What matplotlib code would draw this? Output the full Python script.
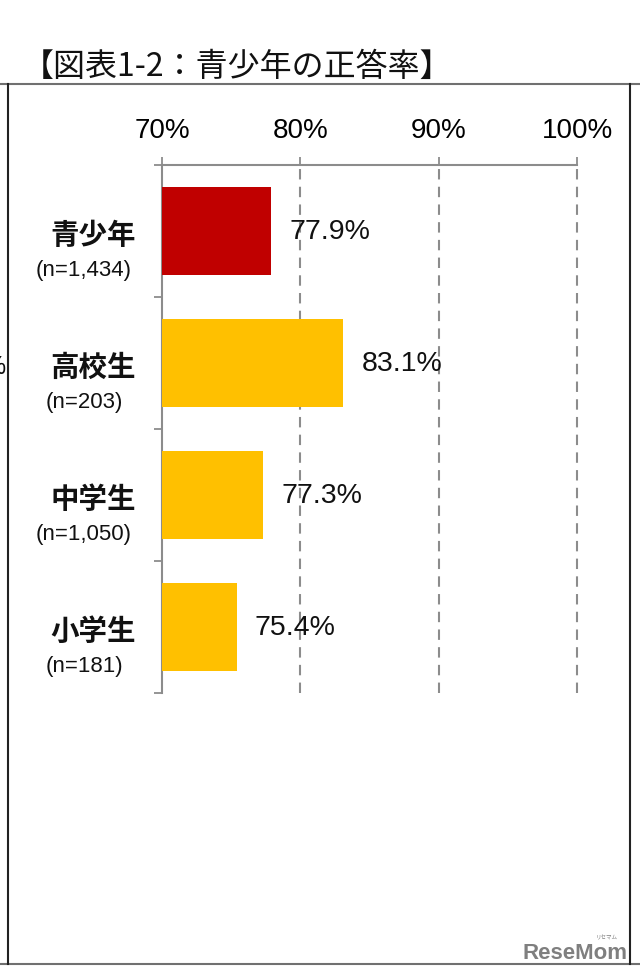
import matplotlib
matplotlib.use('Agg')
from matplotlib import pyplot as plt
from matplotlib.lines import Line2D
import matplotlib.transforms as mtransforms

# data
groups = ['青少年', '高校生', '中学生', '小学生']
sizes = ['(n=1,434)', '(n=203)', '(n=1,050)', '(n=181)']
rates = [77.9, 83.1, 77.3, 75.4]
bar_colors = ['#C00000', '#FFC000', '#FFC000', '#FFC000']
xticks = [70, 80, 90, 100]
xtick_labels = ['70%', '80%', '90%', '100%']
title = '【図表1-2：青少年の正答率】'

W, H = 640, 978
fig = plt.figure(figsize=(W / 100, H / 100), dpi=100)
fig.patch.set_facecolor('white')


def px(x, y):
    # pixel coords (top-left origin) -> figure fraction
    return x / W, 1 - y / H


left, right, top, bottom = 162, 577, 166, 694
ax = fig.add_axes([left / W, 1 - bottom / H, (right - left) / W, (bottom - top) / H])

pos = list(range(len(groups)))
ax.barh(pos, [r - 70 for r in rates], left=70, height=0.667, color=bar_colors, zorder=3)
ax.set_xlim(70, 100)
ax.set_ylim(len(groups) - 0.5, -0.5)

ax.xaxis.tick_top()
ax.set_xticks(xticks)
ax.set_xticklabels(xtick_labels, fontsize=20, family=['Liberation Sans', 'DejaVu Sans'])
ax.tick_params(axis='x', direction='out', length=6, width=1.3, color='#8c8c8c', pad=10)
ax.set_yticks([p - 0.5 for p in pos] + [len(groups) - 0.5])
ax.set_yticklabels([])
ax.tick_params(axis='y', direction='out', length=6, width=1.3, color='#8c8c8c')

for s in ['right', 'bottom']:
    ax.spines[s].set_visible(False)
for s in ['top', 'left']:
    ax.spines[s].set_color('#8c8c8c')
    ax.spines[s].set_linewidth(1.5)

for x in xticks[1:]:
    ax.axvline(x, color='#8c8c8c', lw=1.5, ls=(0, (5, 3.5)), zorder=1, clip_on=False)

for p, r in zip(pos, rates):
    ax.annotate(f'{r:.1f}%', (r, p), xytext=(13, 0), textcoords='offset points',
                ha='left', va='center', fontsize=20.5, color='#111111',
                family=['Liberation Sans', 'DejaVu Sans'], zorder=4)

# category labels, two lines each
trans = mtransforms.blended_transform_factory(fig.transFigure, ax.transData)
for p, g, n in zip(pos, groups, sizes):
    ax.text(136 / W, p + 0.03, g, transform=trans, ha='right', va='center',
            fontsize=20.5, fontweight='bold', color='#111111',
            family=['Noto Sans CJK JP', 'DejaVu Sans'])
    ax.text(84 / W, p + 0.29, n, transform=trans, ha='center', va='center',
            fontsize=16, color='#111111', family=['Liberation Sans', 'DejaVu Sans'])

# title
fig.text(*px(22, 67), title, ha='left', va='center', fontsize=23,
         color='#111111', family=['Noto Sans CJK JP', 'DejaVu Sans'])

# frame around the figure panel
fig.add_artist(Line2D([0, 1], [1 - 85 / H] * 2, color='#707070', lw=1.5))
fig.add_artist(Line2D([0, 1], [1 - 965 / H] * 2, color='#707070', lw=1.5))
fig.add_artist(Line2D([8 / W] * 2, [1 - 85 / H, 1 - 965 / H], color='#222222', lw=1.5))
fig.add_artist(Line2D([630 / W] * 2, [1 - 85 / H, 1 - 965 / H], color='#222222', lw=1.5))

# cropped glyph on the left edge
fig.text(*px(5, 367), '%', ha='right', va='center', fontsize=18, color='#111111',
         family=['Liberation Sans', 'DejaVu Sans'])

# watermark
fig.text(*px(628, 954), 'ReseMom', ha='right', va='center', fontsize=16,
         fontweight='bold', color='#7f7f7f', family=['Liberation Sans Narrow', 'Liberation Sans', 'DejaVu Sans'])
fig.text(*px(618, 938), 'リセマム', ha='right', va='center', fontsize=4,
         color='#7f7f7f', family=['Noto Sans CJK JP', 'DejaVu Sans'])

fig.savefig('out.png', dpi=100, facecolor='white')
